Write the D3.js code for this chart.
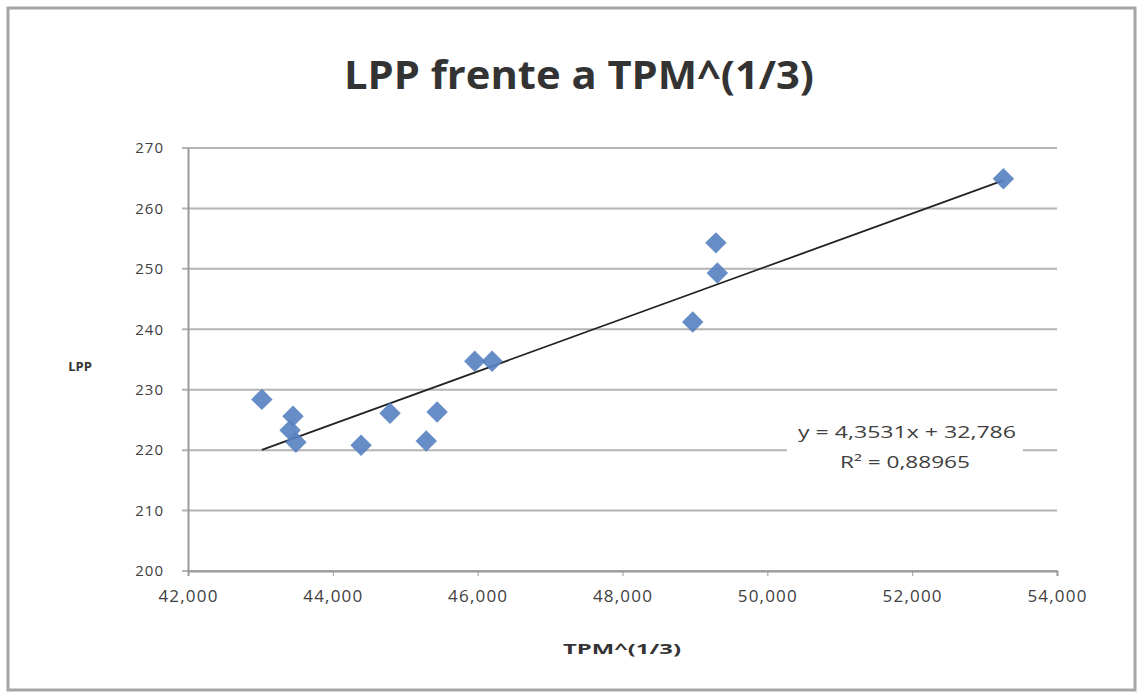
<!DOCTYPE html>
<html>
<head>
<meta charset="utf-8">
<script src="https://cdn.jsdelivr.net/npm/d3@7"></script>
<style>
  body { margin: 0; background: #fff; }
  text { font-family: "Open Sans", "Noto Sans", sans-serif; }
</style>
</head>
<body>
<script>
// data
var tpm = [43.02, 43.45, 43.41, 43.49, 44.39, 44.79, 45.29, 45.44, 45.96, 46.20, 48.97, 49.29, 49.31, 53.26];
var lpp = [228.4, 225.6, 223.3, 221.3, 220.8, 226.1, 221.5, 226.3, 234.7, 234.7, 241.2, 254.3, 249.3, 264.9];
var xTicks = [42, 44, 46, 48, 50, 52, 54];
var yTicks = [200, 210, 220, 230, 240, 250, 260, 270];
var slope = 4.3531, intercept = 32.786;
var eqText = ["y = 4,3531x + 32,786", "R\u00b2 = 0,88965"];

var W = 1142, H = 694;
var pLeft = 188, pRight = 1057, pTop = 148, pBottom = 571;

var svg = d3.select("body").append("svg")
	.attr("width", W)
	.attr("height", H);

// chart frame
svg.append("rect")
	.attr("x", 8).attr("y", 8)
	.attr("width", 1127).attr("height", 682)
	.attr("fill", "#fff")
	.attr("stroke", "#a6a6a6")
	.attr("stroke-width", 3);

var x = d3.scaleLinear().domain([42, 54]).range([pLeft, pRight]);
var y = d3.scaleLinear().domain([200, 270]).range([pBottom, pTop]);

// grid
svg.append("g")
	.selectAll("line")
	.data(yTicks)
	.enter()
	.append("line")
	.attr("x1", pLeft - 6)
	.attr("x2", pRight)
	.attr("y1", d => y(d))
	.attr("y2", d => y(d))
	.attr("stroke", "#b4b4b4")
	.attr("stroke-width", 2);

// y axis
var yAxis = d3.axisLeft(y)
	.tickValues(yTicks)
	.tickSize(0)
	.tickPadding(24)
	.tickFormat(d3.format("d"));

var ya = svg.append("g")
	.attr("transform", "translate(" + pLeft + ",0)")
	.call(yAxis);
ya.select(".domain").attr("stroke", "#9a9a9a").attr("stroke-width", 2);
ya.selectAll("text").attr("font-size", 15).attr("fill", "#404040")
	.attr("letter-spacing", 1);

// x axis
var fmtX = d => d3.format(".3f")(d).replace(".", ",");
var xAxis = d3.axisBottom(x)
	.tickValues(xTicks)
	.tickSize(5)
	.tickPadding(14)
	.tickFormat(fmtX);

var xa = svg.append("g")
	.attr("transform", "translate(0," + pBottom + ")")
	.call(xAxis);
xa.select(".domain").attr("stroke", "#9a9a9a").attr("stroke-width", 2);
xa.selectAll(".tick line").attr("stroke", "#9a9a9a");
xa.selectAll("text").attr("font-size", 17).attr("fill", "#404040")
	.attr("letter-spacing", 1.2);

// trend line
var x0 = d3.min(tpm), x1 = d3.max(tpm);
svg.append("line")
	.attr("x1", x(x0)).attr("y1", y(slope * x0 + intercept))
	.attr("x2", x(x1)).attr("y2", y(slope * x1 + intercept))
	.attr("stroke", "#222")
	.attr("stroke-width", 1.8);

// points
var diamond = d3.symbol().type(d3.symbolSquare).size(230);
svg.append("g")
	.selectAll("path")
	.data(tpm)
	.enter()
	.append("path")
	.attr("d", diamond)
	.attr("transform", (d, i) => "translate(" + x(d) + "," + y(lpp[i]) + ") rotate(45)")
	.attr("fill", "#5581c0")
	.attr("fill-opacity", 0.9);

// equation label
var eq = svg.append("g").attr("transform", "translate(905,0)");
eq.append("rect")
	.attr("x", -118).attr("y", 418)
	.attr("width", 236).attr("height", 58)
	.attr("fill", "#fff");
eq.selectAll("text")
	.data(eqText)
	.enter()
	.append("text")
	.attr("x", (d, i) => i ? 0 : 2)
	.attr("y", (d, i) => 438 + i * 30)
	.attr("text-anchor", "middle")
	.attr("font-size", 16)
	.attr("fill", "#404040")
	.attr("textLength", (d, i) => i ? 130 : 218)
	.attr("lengthAdjust", "spacingAndGlyphs")
	.text(d => d);

// titles
svg.append("text")
	.attr("x", 579).attr("y", 89)
	.attr("text-anchor", "middle")
	.attr("font-size", 39)
	.attr("font-weight", "bold")
	.attr("fill", "#333")
	.attr("textLength", 470)
	.attr("lengthAdjust", "spacingAndGlyphs")
	.text("LPP frente a TPM^(1/3)");

svg.append("text")
	.attr("x", 80).attr("y", 371)
	.attr("text-anchor", "middle")
	.attr("font-size", 13)
	.attr("font-weight", "bold")
	.attr("fill", "#333")
	.text("LPP");

svg.append("text")
	.attr("x", 622).attr("y", 654)
	.attr("text-anchor", "middle")
	.attr("font-size", 15)
	.attr("font-weight", "bold")
	.attr("fill", "#333")
	.attr("textLength", 118)
	.attr("lengthAdjust", "spacingAndGlyphs")
	.text("TPM^(1/3)");
</script>
</body>
</html>
